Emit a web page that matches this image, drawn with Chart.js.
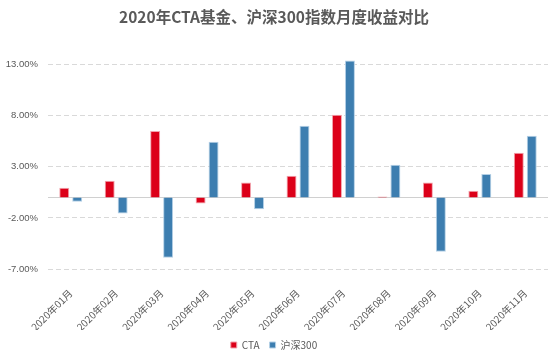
<!DOCTYPE html>
<html><head><meta charset="utf-8">
<script src="https://cdn.jsdelivr.net/npm/chart.js@4/dist/chart.umd.min.js"></script>
<style>html,body{margin:0;padding:0;background:#fff;}#wrap{width:554px;height:357px;}</style>
</head><body><div id="wrap"><canvas id="c" width="554" height="357"></canvas></div>
<script>
const categories = ["2020年01月","2020年02月","2020年03月","2020年04月","2020年05月","2020年06月","2020年07月","2020年08月","2020年09月","2020年10月","2020年11月"];
const ctaValues = [0.95, 1.64, 6.50, -0.59, 1.47, 2.13, 8.10, 0.10, 1.47, 0.65, 4.38];
const hs300Values = [-0.42, -1.57, -5.91, 5.46, -1.15, 7.03, 13.40, 3.20, -5.32, 2.29, 6.05];
const yTicks = [-7, -2, 3, 8, 13];
const seriesNames = ["CTA", "沪深300"];
const titleText = "2020年CTA基金、沪深300指数月度收益对比";

const zeroLine = {
  id: 'zeroLine',
  beforeDatasetsDraw(chart) {
    const y = chart.scales.y.getPixelForValue(0);
    const a = chart.chartArea, ctx = chart.ctx;
    ctx.save();
    ctx.strokeStyle = '#d0d0d0';
    ctx.lineWidth = 1;
    ctx.beginPath();
    ctx.moveTo(a.left, Math.round(y) + 0.5);
    ctx.lineTo(a.right, Math.round(y) + 0.5);
    ctx.stroke();
    ctx.restore();
  }
};

const cjk = "'Noto Sans CJK SC', 'Noto Sans', sans-serif";
new Chart(document.getElementById('c'), {
  type: 'bar',
  data: {
    labels: categories,
    datasets: [
      { label: seriesNames[0], data: ctaValues, backgroundColor: '#dc0019', borderColor: '#f2a3ad', borderWidth: 1 },
      { label: seriesNames[1], data: hs300Values, backgroundColor: '#3d7eb0', borderColor: '#b4d0e6', borderWidth: 1 }
    ]
  },
  options: {
    responsive: false,
    animation: false,
    layout: { padding: { left: 0, right: 6, top: 0, bottom: 0 } },
    datasets: { bar: { categoryPercentage: 0.57, barPercentage: 0.77 } },
    plugins: {
      title: { display: true, text: titleText, color: '#595959', font: { family: cjk, size: 15.5, weight: 'bold' }, padding: { top: 8, bottom: 33 } },
      legend: { position: 'bottom', maxHeight: 27, labels: { boxWidth: 6, boxHeight: 6, color: '#595959', font: { family: cjk, size: 10 }, padding: 10 } },
      tooltip: { enabled: false }
    },
    scales: {
      x: {
        grid: { display: false },
        border: { display: false },
        afterFit(scale) { scale.height = 61; },
        ticks: { color: '#595959', font: { family: cjk, size: 10 }, maxRotation: 45, minRotation: 45, autoSkip: false, padding: 10 }
      },
      y: {
        min: -7, max: 13.5,
        afterBuildTicks(scale) { scale.ticks = yTicks.map(v => ({ value: v })); },
        afterFit(scale) { scale.width = 48; },
        grid: { color: '#d9d9d9', drawTicks: false, borderDash: [5, 3] },
        border: { display: false, dash: [5, 3] },
        ticks: { color: '#595959', font: { family: "'Liberation Sans', Arial, sans-serif", size: 9.5 }, padding: 10, callback: v => v.toFixed(2) + '%' }
      }
    }
  },
  plugins: [zeroLine]
});
</script></body></html>
